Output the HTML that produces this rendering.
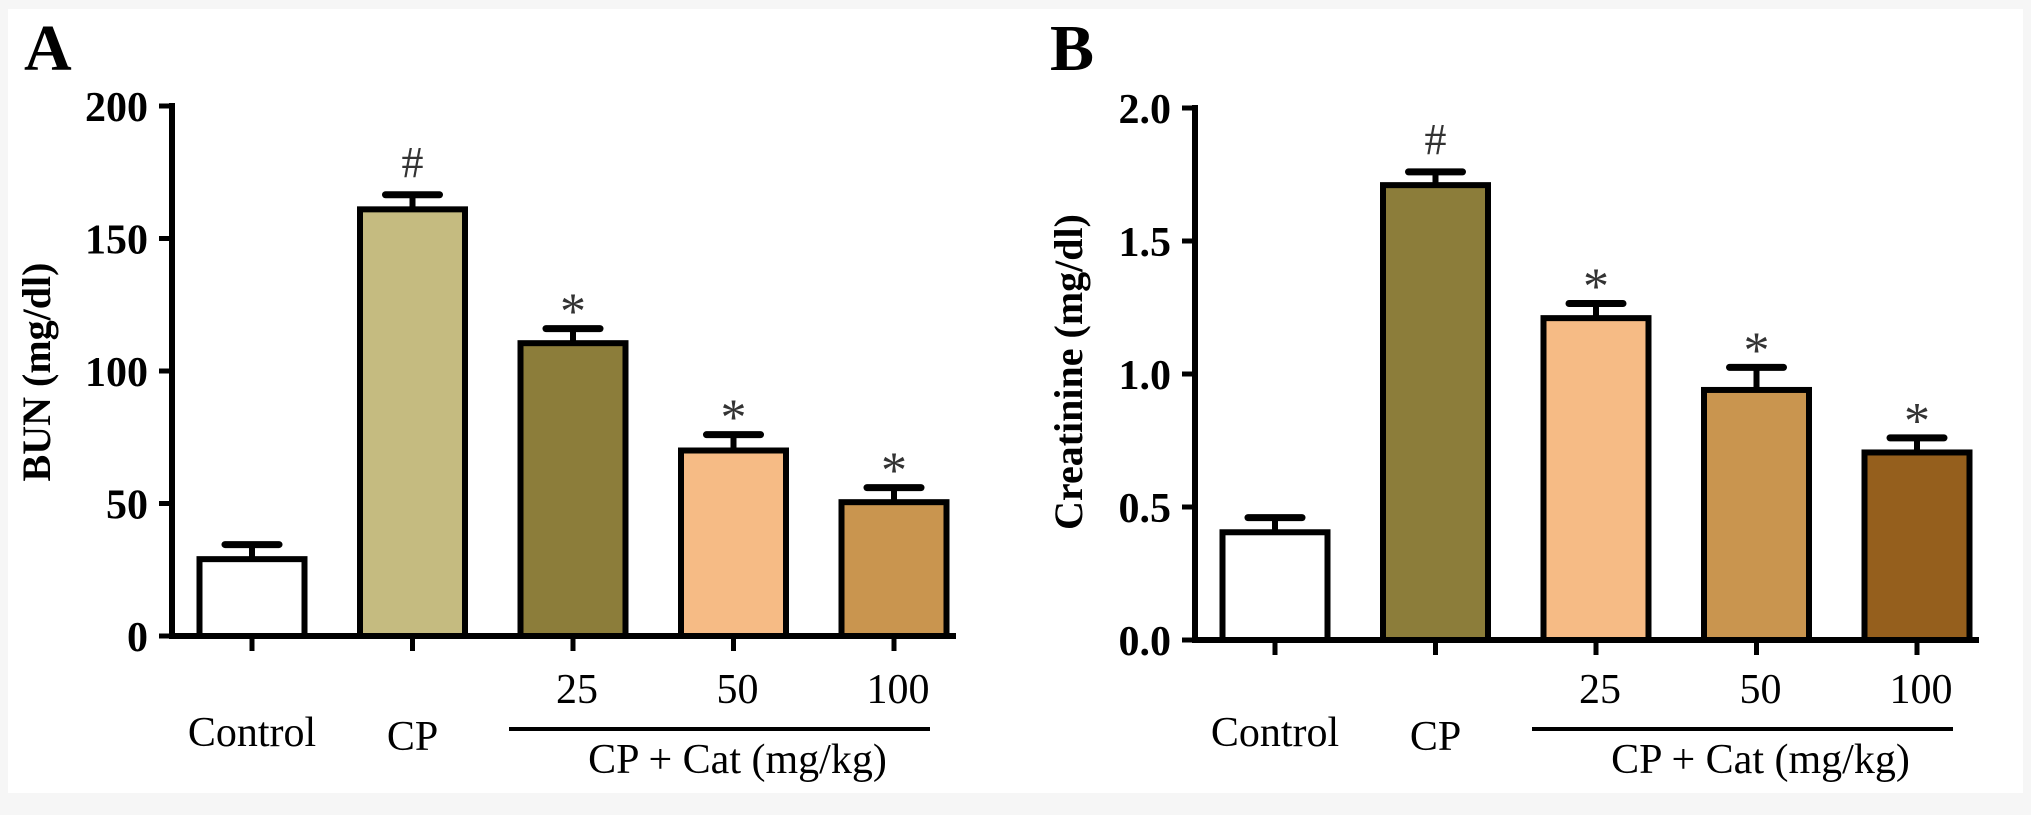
<!DOCTYPE html>
<html><head><meta charset="utf-8">
<style>
html,body{margin:0;padding:0;background:#f6f6f6;}
svg{display:block;}
text{font-family:"Liberation Serif","DejaVu Serif",serif;}
</style></head>
<body>
<svg id="chart" width="2031" height="815" viewBox="0 0 2031 815" xmlns="http://www.w3.org/2000/svg">
<rect x="8" y="9" width="2015" height="784" fill="#ffffff"/>
<g id="panelA"></g>
<g id="panelB"></g>
</svg>
<script>
const categories = ["Control","CP","25","50","100"];
const bunValues = [29, 161, 110.5, 70, 50.5];
const bunErrors = [5.5, 5.5, 5.5, 6, 5.5];
const bunMarks = ["", "#", "*", "*", "*"];
const bunTicks = [0, 50, 100, 150, 200];
const bunTickLabels = ["0", "50", "100", "150", "200"];
const creValues = [0.405, 1.71, 1.21, 0.94, 0.705];
const creErrors = [0.055, 0.05, 0.055, 0.085, 0.055];
const creMarks = ["", "#", "*", "*", "*"];
const creTicks = [0, 0.5, 1.0, 1.5, 2.0];
const creTickLabels = ["0.0", "0.5", "1.0", "1.5", "2.0"];
const bunColors = ["#ffffff","#c5bb80","#8c7d3a","#f6bb85","#c9954f"];
const creColors = ["#ffffff","#8c7d3a","#f6bb85","#c9954f","#955f1d"];

const NS = "http://www.w3.org/2000/svg";
function mk(parent, tag, attrs, txt){
  const e = document.createElementNS(NS, tag);
  for (const k in attrs) e.setAttribute(k, attrs[k]);
  if (txt !== undefined) e.textContent = txt;
  parent.appendChild(e);
  return e;
}

function drawPanel(g, cfg){
  const ax = cfg.axisX, y0 = cfg.y0, yTop = cfg.yTop, vmax = cfg.vmax;
  const yScale = v => y0 - (v / vmax) * (y0 - yTop);
  const xScale = i => ax + 80 + i * 160.5;
  const letter = mk(g, "text", {x: cfg.letterX, y: 70, "font-size": 66, "font-weight": "bold"}, cfg.letter);
  
  
  const yt = mk(g, "text", {x: 0, y: 0, "font-size": 40, "font-weight": "bold", "text-anchor": "middle",
    transform: "translate(" + cfg.titleX + ",372) rotate(-90)"}, cfg.yTitle);
  
  
  const yAxis = mk(g, "line", {x1: ax, y1: yScale(vmax) - 3, x2: ax, y2: y0 + 3, stroke: "#000", "stroke-width": 6});
  
  
  cfg.ticks.forEach((t, i) => {
    const y = yScale(t);
    const tk = mk(g, "line", {x1: ax - 13, y1: y, x2: ax, y2: y, stroke: "#000", "stroke-width": 5});
    
    
    const tl = mk(g, "text", {x: ax - 24, y: y + 15, "font-size": 42, "font-weight": "bold", "text-anchor": "end"}, cfg.tickLabels[i]);
    
    
  });
  const xAxis = mk(g, "line", {x1: ax - 3, y1: y0, x2: xScale(4) + 62, y2: y0, stroke: "#000", "stroke-width": 6});
  
  
  const bw = 105;
  cfg.values.forEach((v, i) => {
    const cx = xScale(i);
    const yv = yScale(v);
    const ye = yScale(v + cfg.errors[i]);
    const eb = mk(g, "line", {x1: cx, y1: yv, x2: cx, y2: ye, stroke: "#000", "stroke-width": 6});
    
    
    const cap = mk(g, "line", {x1: cx - 27, y1: ye, x2: cx + 27, y2: ye, stroke: "#000", "stroke-width": 7, "stroke-linecap": "round"});
    
    
    const bar = mk(g, "rect", {x: cx - bw / 2, y: yv, width: bw, height: y0 - yv, fill: cfg.colors[i], stroke: "#000", "stroke-width": 6});
    
    
    if (cfg.marks[i]) {
      const isHash = cfg.marks[i] === "#";
      const m = mk(g, "text", {x: cx, y: ye - (isHash ? 18 : 0), "font-size": isHash ? 44 : 52, fill: "#333", "text-anchor": "middle"}, cfg.marks[i]);
      
      
    }
    const xt = mk(g, "line", {x1: cx, y1: y0, x2: cx, y2: y0 + 15, stroke: "#000", "stroke-width": 5});
    
    
    const ly = i === 0 ? 746 : (i === 1 ? 750 : 703);
    const lbl = mk(g, "text", {x: cx + (i >= 2 ? 4 : 0), y: ly, "font-size": 42, "text-anchor": "middle"}, categories[i]);
    
    
  });
  const gl = mk(g, "line", {x1: xScale(2) - 64, y1: 729, x2: xScale(4) + 36, y2: 729, stroke: "#000", "stroke-width": 4});
  
  
  const gt = mk(g, "text", {x: xScale(3) + 4, y: 773, "font-size": 42, "text-anchor": "middle"}, "CP + Cat (mg/kg)");
  
  
}

drawPanel(document.getElementById("panelA"), {
  letter: "A", letterX: 24, titleX: 50, yTitle: "BUN (mg/dl)",
  axisX: 172, y0: 636, yTop: 106, vmax: 200,
  ticks: bunTicks, tickLabels: bunTickLabels,
  values: bunValues, errors: bunErrors, marks: bunMarks, colors: bunColors
});
drawPanel(document.getElementById("panelB"), {
  letter: "B", letterX: 1050, titleX: 1082, yTitle: "Creatinine (mg/dl)",
  axisX: 1195, y0: 640, yTop: 108, vmax: 2.0,
  ticks: creTicks, tickLabels: creTickLabels,
  values: creValues, errors: creErrors, marks: creMarks, colors: creColors
});
</script>
</body></html>
